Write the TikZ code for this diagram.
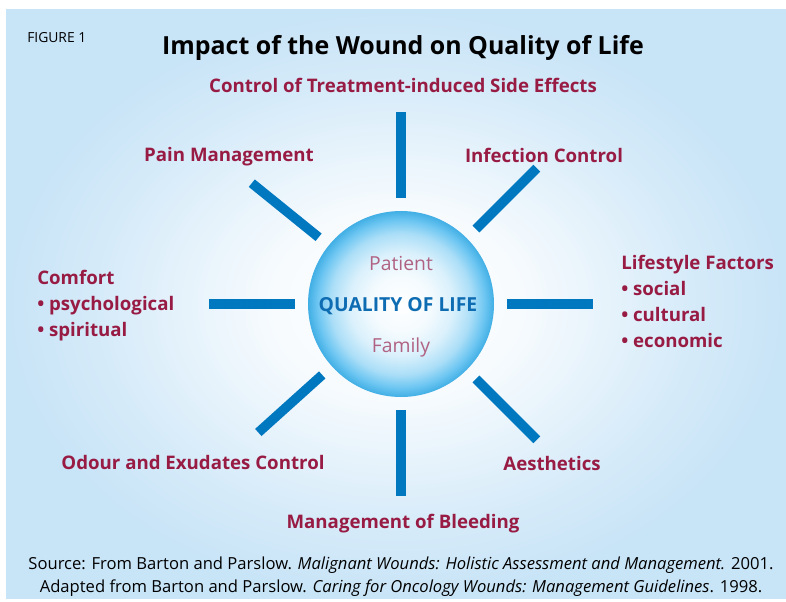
\documentclass[tikz,border=0pt]{standalone}
\usepackage{fontspec}
\setmainfont{Open Sans}
\usepackage{tikz}
\definecolor{panelblue}{RGB}{200,228,247}
\definecolor{sphereblue}{RGB}{68,182,238}
\definecolor{rayblue}{RGB}{0,120,192}
\definecolor{labelred}{RGB}{152,27,68}
\definecolor{softred}{RGB}{176,98,130}
\definecolor{qolblue}{RGB}{14,108,178}
\pgfdeclareradialshading{panelglow}{\pgfpoint{0bp}{0bp}}{color(0bp)=(white); color(8bp)=(white!85!panelblue); color(19bp)=(white!25!panelblue); color(25bp)=(panelblue); color(50bp)=(panelblue)}
\pgfdeclareradialshading{qolsphere}{\pgfpoint{0bp}{0bp}}{color(0bp)=(white); color(8bp)=(white!94!sphereblue); color(14bp)=(white!80!sphereblue); color(19bp)=(white!55!sphereblue); color(22.5bp)=(white!22!sphereblue); color(25bp)=(sphereblue!96!black); color(50bp)=(sphereblue!96!black)}
\newcommand{\rin}{106}
\newcommand{\rout}{192}
\newcommand{\rball}{93}

\begin{document}
\begin{tikzpicture}[x=0.75pt,y=0.75pt,
    ray/.style={draw=rayblue,line width=7.2pt},
    label/.style={inner sep=0pt,text=labelred,font=\fontsize{14}{19.5}\selectfont\bfseries},
    inner/.style={inner sep=0pt,text=softred,font=\fontsize{14.5}{16}\selectfont}]
                    \useasboundingbox (0,0) rectangle (786,601);
                    \shade[shading=panelglow] (6,3) rectangle (786,591);
                    \coordinate (o) at (401,297);
                    \shade[shading=qolsphere] (o) circle (\rball);
                    \foreach \a/\n in {90/n,45/ne,0/e,315/se,270/s,222/sw,180/w,141/nw}{
                    \path (o) ++(\a:\rin) coordinate (\n1);
                    \path (o) ++(\a:\rout) coordinate (\n2);
                    \draw[ray] (\n1)--(\n2);
                    }
                    \node[anchor=west,inner sep=0pt,font=\fontsize{10.4}{12}\selectfont] (fig) at (27,563) {FIGURE 1};
                    \node[inner sep=0pt,font=\fontsize{18.7}{20}\selectfont\bfseries] (title) at (403,553) {Impact of the Wound on Quality of Life};
                    \node[label] (side) at (403,516) {Control of Treatment-induced Side Effects};
                    \node[label] (pain) at (229,444) {Pain Management};
                    \node[label] (infect) at (544,446) {Infection Control};
                    \node[label,anchor=west,align=left] (comfort) at (37,295.5) {Comfort\\ • psychological\\ • spiritual};
                    \node[label,anchor=west,align=left] (life) at (621,300) {Lifestyle Factors\\ • social\\ • cultural\\ • economic};
                    \node[label] (odour) at (193,139) {Odour and Exudates Control};
                    \node[label] (aest) at (552,138) {Aesthetics};
                    \node[label] (bleed) at (403,77) {Management of Bleeding};
                    \node[inner] (patient) at (401,337) {Patient};
                    \node[inner,text=qolblue,font=\fontsize{14.5}{16}\selectfont\bfseries] (qol) at (398,295) {QUALITY OF LIFE};
                    \node[inner] (family) at (401,254) {Family};
                    \node[inner sep=0pt,align=center,font=\fontsize{12.45}{17.25}\selectfont] (source) at (401,24.5) {Source: From Barton and Parslow. \textit{Malignant Wounds: Holistic Assessment and Management.} 2001.\\ Adapted from Barton and Parslow. \textit{Caring for Oncology Wounds: Management Guidelines}. 1998.};
                    \end{tikzpicture}
\end{document}
